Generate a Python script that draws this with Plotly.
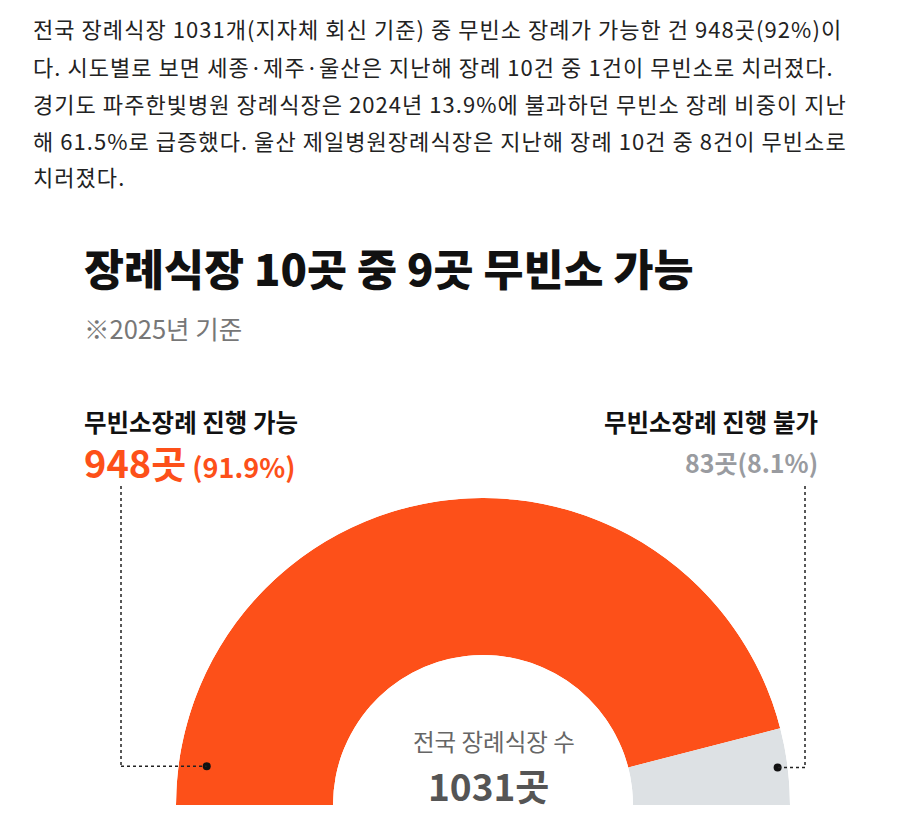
import math
import plotly.graph_objects as go

# ---------------- data ----------------
categories = ["무빈소장례 진행 가능", "무빈소장례 진행 불가"]
counts = [948, 83]
shares = [91.9, 8.1]
total = 1031
slice_colors = ["#FD5019", "#DDE1E4"]

paragraph = [
    "전국 장례식장 1031개(지자체 회신 기준) 중 무빈소 장례가 가능한 건 948곳(92%)이",
    "다. 시도별로 보면 세종·제주·울산은 지난해 장례 10건 중 1건이 무빈소로 치러졌다.",
    "경기도 파주한빛병원 장례식장은 2024년 13.9%에 불과하던 무빈소 장례 비중이 지난",
    "해 61.5%로 급증했다. 울산 제일병원장례식장은 지난해 장례 10건 중 8건이 무빈소로",
    "치러졌다.",
]
title = "장례식장 10곳 중 9곳 무빈소 가능"
subtitle = "※2025년 기준"
center_label = "전국 장례식장 수"

# ---------------- geometry helpers ----------------
W, H = 900, 831
OFF = 8  # default body margin of the html page
FW, FH = W - 2 * OFF, H - 2 * OFF
FONT = "Noto Sans CJK KR"


def px(x):
    return (x - OFF) / FW


def py(y):
    return 1 - (y - OFF) / FH


CX, CY, R_OUT, R_IN = 483, 805, 307, 150
hole = R_IN / R_OUT

# angles of slices (semicircle, counter-clockwise from the right)
ang = [c / total * 180 for c in counts]
grey_center = ang[1] / 2
orange_center = ang[1] + ang[0] / 2

fig = go.Figure()
fig.add_trace(go.Barpolar(
    r=[1, 1],
    theta=[orange_center, grey_center],
    width=[ang[0], ang[1]],
    marker=dict(color=slice_colors, line=dict(width=0)),
    hoverinfo="skip",
    showlegend=False,
))

# leader dots (positions in radial units)
dot_theta = [172, grey_center]
dot_rpx = [279, 297]
dot_r = [(rp - R_IN) / (R_OUT - R_IN) for rp in dot_rpx]
fig.add_trace(go.Scatterpolar(
    r=dot_r, theta=dot_theta, mode="markers",
    marker=dict(color="#111111", size=8),
    hoverinfo="skip", showlegend=False,
))

fig.update_layout(
    width=FW, height=FH,
    margin=dict(l=0, r=0, t=0, b=0),
    paper_bgcolor="white",
    polar=dict(
        domain=dict(x=[px(CX - R_OUT), px(CX + R_OUT)], y=[py(CY), py(CY - R_OUT)]),
        sector=[0, 180],
        hole=hole,
        bgcolor="rgba(0,0,0,0)",
        radialaxis=dict(range=[0, 1], visible=False, showgrid=False),
        angularaxis=dict(visible=False, showgrid=False, direction="counterclockwise", rotation=0),
        barmode="overlay",
    ),
    font=dict(family=FONT),
)

# leader lines
dots_px = []
for t, rp in zip(dot_theta, dot_rpx):
    dots_px.append((CX + rp * math.cos(math.radians(t)), CY - rp * math.sin(math.radians(t))))

line_style = dict(color="#222222", width=1.5, dash="dot")
lx = 121
rx = 805
fig.add_shape(type="line", xref="paper", yref="paper", x0=px(lx), x1=px(lx), y0=py(486), y1=py(dots_px[0][1]), line=line_style)
fig.add_shape(type="line", xref="paper", yref="paper", x0=px(lx), x1=px(dots_px[0][0]), y0=py(dots_px[0][1]), y1=py(dots_px[0][1]), line=line_style)
fig.add_shape(type="line", xref="paper", yref="paper", x0=px(rx), x1=px(rx), y0=py(486), y1=py(dots_px[1][1]), line=line_style)
fig.add_shape(type="line", xref="paper", yref="paper", x0=px(rx), x1=px(dots_px[1][0]), y0=py(dots_px[1][1]), y1=py(dots_px[1][1]), line=line_style)


def ann(text, x, y, size, color="#111111", weight="normal", xanchor="left"):
    fig.add_annotation(
        text=text, x=px(x), y=py(y), xref="paper", yref="paper",
        xanchor=xanchor, yanchor="middle", showarrow=False,
        font=dict(family=FONT, size=size, color=color, weight=weight),
    )


# paragraph
para_y = [28, 66, 103, 140, 176]
for line, yy in zip(paragraph, para_y):
    ann(f"<span style='letter-spacing:1.05px'>{line}</span>", 31, yy, 22, color="#222222")

# title and subtitle
ann(title, 82, 268, 43.5, color="#111111", weight=900)
ann(subtitle, 82, 328, 25.5, color="#777777")

# left label
ann(categories[0], 82, 422, 24.5, color="#111111", weight="bold")
ann(f"<span style='font-size:38px'>{counts[0]}곳</span> ({shares[0]}%)", 82, 461, 27,
    color=slice_colors[0], weight="bold")

# right label
ann(categories[1], 820, 422, 24.5, color="#111111", weight="bold", xanchor="right")
ann(f"{counts[1]}곳({shares[1]}%)", 820, 462, 25, color="#999BA0", weight="bold", xanchor="right")

# center
ann(center_label, CX + 11, 741, 23.5, color="#666666", xanchor="center")
ann(f"{total}곳", CX + 6, 785, 37, color="#555555", weight="bold", xanchor="center")

fig.write_html("out.html")
